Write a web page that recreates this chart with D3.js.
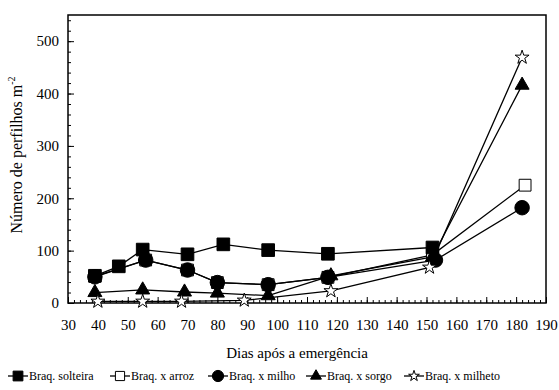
<!DOCTYPE html>
<html>
<head>
<meta charset="utf-8">
<script src="https://cdn.jsdelivr.net/npm/d3@7"></script>
<style>
  body { margin: 0; background: #fff; font-family: "Times New Roman", "Liberation Serif", "DejaVu Serif", serif; }
  svg text { font-family: inherit; }
</style>
</head>
<body>
<svg id="chart"></svg>
<script>
// data (days after emergence, tillers per m2)
var seriesNames = ["Braq. solteira", "Braq. x arroz", "Braq. x milho", "Braq. x sorgo", "Braq. x milheto"];

var diasSolteira = [39, 47, 55, 70, 82, 97, 117, 152];
var valSolteira  = [52, 70, 102, 93, 112, 101, 94, 106];

var diasArroz = [39, 56, 70, 80, 97, 117, 152, 183];
var valArroz  = [51, 82, 63, 39, 35, 49, 92, 225];

var diasMilho = [39, 56, 70, 80, 97, 117, 153, 182];
var valMilho  = [50, 82, 63, 39, 35, 49, 82, 182];

var diasSorgo = [39, 55, 69, 80, 97, 118, 152, 182];
var valSorgo  = [20, 25, 21, 19, 14, 52, 88, 416];

var diasMilheto = [40, 55, 68, 89, 118, 151, 182];
var valMilheto  = [3, 3, 3, 5, 23, 68, 469];

var xTicks = d3.range(30, 191, 10);
var yTicks = d3.range(0, 501, 100);

var W = 559, H = 390;
var margin = {top: 15, right: 13, bottom: 87, left: 68},
    width = W - margin.left - margin.right,
    height = H - margin.top - margin.bottom;

var svg = d3.select("#chart").attr("width", W).attr("height", H);
var g = svg.append("g").attr("transform", "translate(" + margin.left + "," + margin.top + ")");

var x = d3.scaleLinear().domain([30, 190]).range([0, width]);
var y = d3.scaleLinear().domain([0, 550]).range([height, 0]);

// minor ticks
g.append("g")
  .attr("transform", "translate(0," + height + ")")
  .call(d3.axisBottom(x).tickValues(d3.range(30, 191, 2)).tickSize(-3).tickFormat(""))
  .call(function(a) { a.select(".domain").remove(); });
g.append("g")
  .call(d3.axisLeft(y).tickValues(d3.range(0, 551, 20)).tickSize(-3).tickFormat(""))
  .call(function(a) { a.select(".domain").remove(); });

// major ticks + labels
var xAxis = g.append("g")
  .attr("transform", "translate(0," + height + ")")
  .call(d3.axisBottom(x).tickValues(xTicks).tickSize(-6).tickPadding(16));
xAxis.select(".domain").remove();
xAxis.attr("font-family", null);
xAxis.selectAll("text").style("font-size", "15px");

var yAxis = g.append("g")
  .call(d3.axisLeft(y).tickValues(yTicks).tickSize(-6).tickPadding(9));
yAxis.select(".domain").remove();
yAxis.attr("font-family", null);
yAxis.selectAll("text").style("font-size", "15px");

g.selectAll(".tick line").attr("stroke", "#000").attr("stroke-width", 1);

// frame
g.append("rect")
  .attr("width", width).attr("height", height)
  .attr("fill", "none").attr("stroke", "#000").attr("stroke-width", 1.5);

// series
var series = [
  {name: seriesNames[0], dias: diasSolteira, val: valSolteira, sym: d3.symbolSquare, size: 160, fill: "#000"},
  {name: seriesNames[1], dias: diasArroz, val: valArroz, sym: d3.symbolSquare, size: 140, fill: "#fff"},
  {name: seriesNames[2], dias: diasMilho, val: valMilho, sym: d3.symbolCircle, size: 165, fill: "#000"},
  {name: seriesNames[3], dias: diasSorgo, val: valSorgo, sym: d3.symbolTriangle, size: 85, fill: "#000"},
  {name: seriesNames[4], dias: diasMilheto, val: valMilheto, sym: d3.symbolStar, size: 60, fill: "#fff"}
];

var line = d3.line()
  .x(function(d) { return x(d[0]); })
  .y(function(d) { return y(d[1]); });

series.forEach(function(s) {
  s.pts = s.dias.map(function(d, i) { return [d, s.val[i]]; });
  g.append("path")
    .datum(s.pts)
    .attr("d", line)
    .attr("fill", "none")
    .attr("stroke", "#000")
    .attr("stroke-width", 1.3);
});

// open squares first so the filled markers cover them, like the original
var drawOrder = [1, 0, 2, 3, 4];
drawOrder.forEach(function(k) {
  var s = series[k];
  g.selectAll(null)
    .data(s.pts)
    .enter()
    .append("path")
    .attr("d", d3.symbol().type(s.sym).size(s.size))
    .attr("transform", function(d) { return "translate(" + x(d[0]) + "," + y(d[1]) + ")"; })
    .attr("fill", s.fill)
    .attr("stroke", "#000")
    .attr("stroke-width", 1);
});

// axis titles
svg.append("text")
  .attr("x", 297).attr("y", 358)
  .attr("text-anchor", "middle")
  .style("font-size", "15px")
  .text("Dias após a emergência");

var yt = svg.append("text")
  .attr("transform", "translate(22,155) rotate(-90)")
  .attr("text-anchor", "middle")
  .style("font-size", "16px");
yt.append("tspan").text("Número de perfilhos m");
yt.append("tspan").attr("dy", -7).style("font-size", "10px").text("-2");

// legend
var legendX = [8, 110, 208, 306, 404];
var legend = svg.append("g");
series.forEach(function(s, i) {
  var lx = legendX[i], ly = 376;
  legend.append("line")
    .attr("x1", lx).attr("x2", lx + 20)
    .attr("y1", ly).attr("y2", ly)
    .attr("stroke", "#000").attr("stroke-width", 1.3);
  legend.append("path")
    .attr("d", d3.symbol().type(s.sym).size(s.size * 0.6))
    .attr("transform", "translate(" + (lx + 10) + "," + ly + ")")
    .attr("fill", s.fill)
    .attr("stroke", "#000");
  legend.append("text")
    .attr("x", lx + 21).attr("y", ly + 4)
    .style("font-size", "12px")
    .text(s.name);
});
</script>
</body>
</html>
